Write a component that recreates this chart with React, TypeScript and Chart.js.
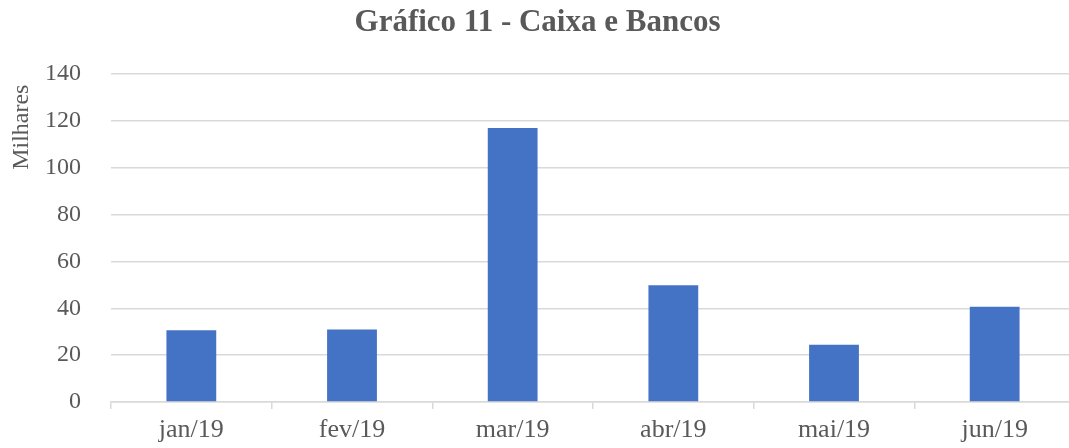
import React, { useEffect, useRef } from "react";
import { Chart, registerables } from "chart.js";

Chart.register(...registerables);

const categories = ["jan/19", "fev/19", "mar/19", "abr/19", "mai/19", "jun/19"];
const values = [30.6, 31.0, 117.0, 49.9, 24.4, 40.7];
const yMin = 0;
const yMax = 140;
const yStep = 20;
const titleText = "Gráfico 11 - Caixa e Bancos";
const yAxisTitle = "Milhares";

const FONT = "'Liberation Serif', 'Times New Roman', serif";
const GREY = "#595959";

const axisTitlePlugin = {
  id: "axisTitleTop",
  afterDraw(chart: any) {
    const { ctx, chartArea } = chart;
    ctx.save();
    ctx.translate(22, chartArea.top + 53);
    ctx.rotate(-Math.PI / 2);
    ctx.font = `24px ${FONT}`;
    ctx.fillStyle = GREY;
    ctx.textAlign = "center";
    ctx.textBaseline = "middle";
    ctx.fillText(yAxisTitle, 0, 0);
    ctx.restore();
  },
};

export default function App() {
  const ref = useRef<HTMLCanvasElement | null>(null);

  useEffect(() => {
    document.body.style.margin = "0";
    document.body.style.overflow = "hidden";
    const chart = new Chart(ref.current!, {
      type: "bar",
      data: {
        labels: categories,
        datasets: [
          {
            data: values,
            backgroundColor: "#4472C4",
            borderColor: "#4472C4",
            borderWidth: 0,
            barPercentage: 0.31,
            categoryPercentage: 1,
          },
        ],
      },
      plugins: [axisTitlePlugin],
      options: {
        animation: false,
        responsive: true,
        maintainAspectRatio: false,
        layout: { padding: { left: 0, right: 0, top: 0, bottom: 0 } },
        plugins: {
          legend: { display: false },
          tooltip: { enabled: false },
          title: {
            display: true,
            text: titleText,
            color: GREY,
            font: { family: FONT, size: 31, weight: "bold" },
            padding: { top: 4, bottom: 33 },
          },
        },
        scales: {
          x: {
            offset: true,
            grid: {
              offset: true,
              drawOnChartArea: false,
              drawTicks: true,
              tickLength: 7,
              color: "#d9d9d9",
              lineWidth: 1.5,
            },
            border: { display: true, color: "#d9d9d9", width: 1.5 },
            ticks: {
              color: GREY,
              font: { family: FONT, size: 26 },
              padding: 6,
            },
            afterFit: (scale: any) => {
              scale.height = 46;
            },
          },
          y: {
            min: yMin,
            max: yMax,
            ticks: {
              stepSize: yStep,
              color: GREY,
              font: { family: FONT, size: 24 },
              padding: 30,
            },
            grid: {
              color: "#d9d9d9",
              lineWidth: 1.5,
              drawTicks: false,
            },
            border: { display: false },
            title: { display: false },
            afterFit: (scale: any) => {
              scale.width = 111;
            },
          },
        },
      },
    } as any);
    return () => chart.destroy();
  }, []);

  return (
    <div style={{ position: "fixed", left: 0, top: 0, width: 1075, height: 448 }}>
      <canvas ref={ref} />
    </div>
  );
}
